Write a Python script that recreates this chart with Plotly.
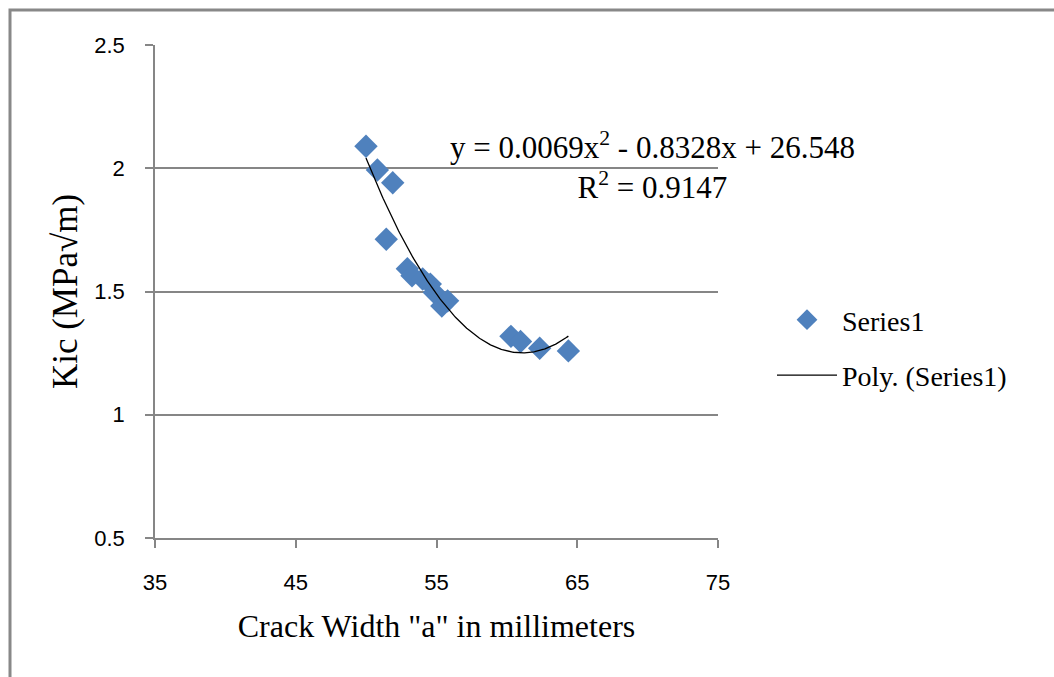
import numpy as np
import plotly.graph_objects as go

# Data
crack_width = [49.99, 50.80, 51.89, 51.43, 52.93, 53.26, 54.02, 54.56, 54.84,
               55.38, 55.79, 60.29, 60.97, 62.33, 64.37]
kic = [2.089, 1.993, 1.941, 1.712, 1.592, 1.564, 1.551, 1.530, 1.496,
       1.441, 1.462, 1.318, 1.297, 1.270, 1.259]
x_ticks = [35, 45, 55, 65, 75]
y_ticks = [0.5, 1, 1.5, 2, 2.5]
equation_text = ("y = 0.0069x<sup style='font-size:70%'>2</sup> - 0.8328x + 26.548"
                 "<br>R<sup>2</sup> = 0.9147")

# Polynomial (order 2) trendline fitted to the series
coef = np.polyfit(crack_width, kic, 2)
fx = np.linspace(min(crack_width), max(crack_width), 200)
fy = np.polyval(coef, fx)

SERIF = "Liberation Serif, Times New Roman, serif"
SANS = "Liberation Sans, Arial, sans-serif"

fig = go.Figure()
fig.add_trace(go.Scatter(
    x=crack_width, y=kic, mode="markers", name="Series1",
    marker=dict(symbol="diamond", size=18, color="#4F81BD",
                line=dict(width=0)),
    legendgroup="a",
))
fig.add_trace(go.Scatter(
    x=fx, y=fy, mode="lines", name="Poly. (Series1)",
    line=dict(color="black", width=1.3),
    legendgroup="b",
))

W, H = 1054, 677
L, R, T, B = 155, 336, 45, 139
pw, ph = W - L - R, H - T - B

def px_x(p):
    return (p - L) / pw

def px_y(p):
    return (H - B - p) / ph

fig.update_layout(
    width=W, height=H,
    margin=dict(l=L, r=R, t=T, b=B, autoexpand=False),
    paper_bgcolor="white", plot_bgcolor="white",
    showlegend=True,
    legend=dict(
        x=px_x(772), y=px_y(295), xanchor="left", yanchor="top",
        font=dict(family=SERIF, size=28, color="black"),
        itemwidth=60, tracegroupgap=16,
        bgcolor="rgba(0,0,0,0)",
    ),
    xaxis=dict(
        range=[35, 75], tickvals=x_ticks, showgrid=False,
        showline=True, linecolor="#868686", linewidth=1.5,
        ticks="outside", ticklen=8, tickcolor="#868686", tickwidth=1.5,
        tickfont=dict(family=SANS, size=22, color="black"),
        ticklabelstandoff=16, zeroline=False,
        title=dict(text='Crack Width "a" in millimeters',
                   font=dict(family=SERIF, size=32, color="black"),
                   standoff=20),
    ),
    yaxis=dict(
        range=[0.5, 2.5], tickvals=y_ticks, showgrid=True,
        gridcolor="#868686", gridwidth=1.5,
        showline=True, linecolor="#868686", linewidth=1.5,
        ticks="outside", ticklen=8, tickcolor="#868686", tickwidth=1.5,
        tickfont=dict(family=SANS, size=22, color="black"),
        ticklabelstandoff=16, zeroline=False,
        title=dict(text="Kic (MPa√m)",
                   font=dict(family=SERIF, size=35, color="black"),
                   standoff=6),
    ),
    annotations=[dict(
        text=equation_text, xref="paper", yref="paper",
        x=px_x(652), y=px_y(166), xanchor="center", yanchor="middle",
        showarrow=False, align="center",
        font=dict(family=SERIF, size=31, color="black"),
    )],
    shapes=[dict(
        type="rect", xref="paper", yref="paper",
        x0=px_x(10), x1=px_x(1200), y0=px_y(800), y1=px_y(10),
        line=dict(color="#888888", width=3), fillcolor="rgba(0,0,0,0)",
        layer="below",
    )],
)

fig.write_html("out.html")
